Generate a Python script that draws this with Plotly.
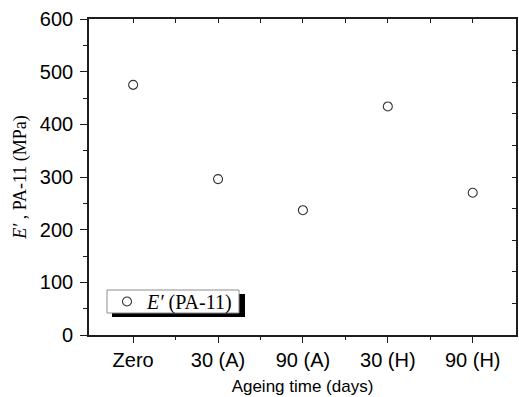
import plotly.graph_objects as go
import numpy as np

categories = ["Zero", "30 (A)", "90 (A)", "30 (H)", "90 (H)"]
modulus = [475, 296, 237, 434, 270]
y_ticks = [0, 100, 200, 300, 400, 500, 600]

W, H = 519, 397
L, R, T, B = 89, 3, 19, 62
xpos = list(range(len(categories)))
xr = [-0.52, 4.51]

pw = W - L - R
ph = H - T - B
def px2x(px):
    return (px - L) / pw
def px2y(py):
    return (H - B - py) / ph

fig = go.Figure()
fig.add_trace(go.Scatter(
    x=xpos, y=modulus, mode="markers",
    name="<i>E′</i>\u00a0(PA-11)",
    marker=dict(symbol="circle-open", size=9, color="#333333", line=dict(width=1.1)),
))
# invisible trace to anchor the mirror axes
fig.add_trace(go.Scatter(x=[None], y=[None], xaxis="x2", yaxis="y2", showlegend=False, hoverinfo="skip"))

axcol = "#1e1e1e"
fig.update_layout(
    width=W, height=H,
    margin=dict(l=L, r=R, t=T, b=B),
    paper_bgcolor="white", plot_bgcolor="white",
    showlegend=True,
    legend=dict(
        x=px2x(107), y=px2y(301.5), xanchor="left", yanchor="middle",
        bgcolor="rgba(0,0,0,0)", borderwidth=0,
        font=dict(family="Liberation Serif", size=20, color="black"),
        itemwidth=30,
    ),
    xaxis=dict(
        range=xr, tickmode="array", tickvals=xpos, ticktext=categories,
        showline=True, linecolor=axcol, linewidth=1.7,
        ticks="outside", ticklen=6, tickwidth=1.4, tickcolor=axcol,
        minor=dict(tickmode="array", tickvals=[0.5, 1.5, 2.5, 3.5], ticks="outside", ticklen=3, tickwidth=1.1, tickcolor=axcol),
        showgrid=False, zeroline=False,
        tickfont=dict(family="Liberation Sans", size=20, color="black"),
        title=dict(text="Ageing time (days)", font=dict(family="Liberation Sans", size=17, color="black"), standoff=10),
    ),
    yaxis=dict(
        range=[0, 600], tickmode="array", tickvals=y_ticks,
        showline=True, linecolor=axcol, linewidth=1.7,
        ticks="outside", ticklen=7, tickwidth=1.4, tickcolor=axcol,
        minor=dict(dtick=50, tick0=0, ticks="outside", ticklen=4, tickwidth=1.1, tickcolor=axcol),
        showgrid=False, zeroline=False,
        ticklabelstandoff=3,
        tickfont=dict(family="Liberation Sans", size=20, color="black"),
        title=dict(text="<i>E′</i> , PA-11 (MPa)", font=dict(family="Liberation Serif", size=18, color="black"), standoff=8),
    ),
    xaxis2=dict(
        overlaying="x", side="top", range=xr, tickmode="array",
        tickvals=list(np.arange(0, 4.5001, 0.5)), showticklabels=False,
        showline=True, linecolor=axcol, linewidth=1.7,
        ticks="inside", ticklen=4, tickwidth=1.2, tickcolor=axcol,
        showgrid=False, zeroline=False,
    ),
    yaxis2=dict(
        overlaying="y", side="right", range=[0, 600], tickmode="linear", tick0=0, dtick=60,
        showticklabels=False,
        showline=True, linecolor=axcol, linewidth=1.7,
        ticks="inside", ticklen=4, tickwidth=1.2, tickcolor=axcol,
        showgrid=False, zeroline=False,
    ),
)

# legend frame with drop shadow
fig.add_shape(type="rect", xref="paper", yref="paper",
              x0=px2x(112), x1=px2x(245), y0=px2y(317), y1=px2y(294),
              fillcolor="black", line=dict(width=0), layer="above")
fig.add_shape(type="rect", xref="paper", yref="paper",
              x0=px2x(107), x1=px2x(239), y0=px2y(313), y1=px2y(290),
              fillcolor="white", line=dict(width=1, color="#8c8c8c"), layer="above")

fig.write_html("out.html")
